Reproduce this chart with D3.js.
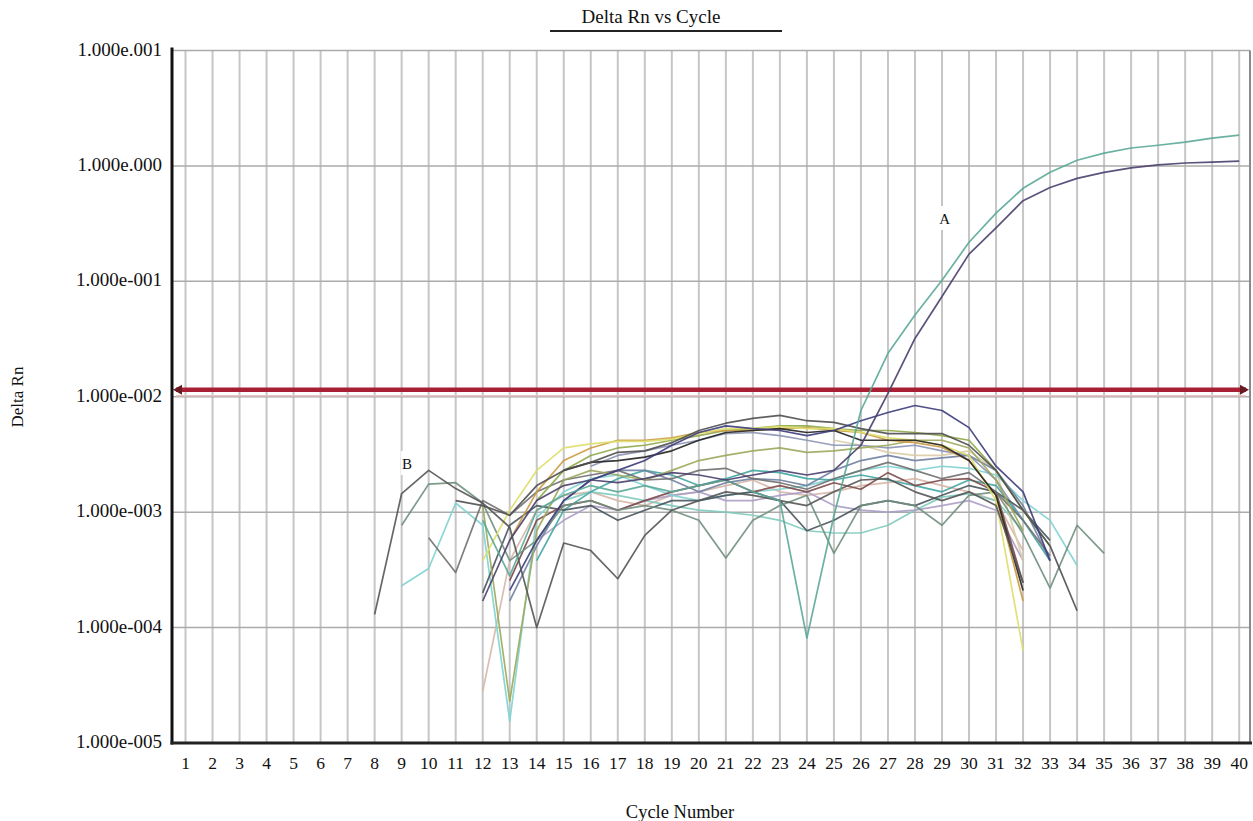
<!DOCTYPE html>
<html>
<head>
<meta charset="utf-8">
<script src="https://cdnjs.cloudflare.com/ajax/libs/d3/7.8.5/d3.min.js"></script>
<style>
  body { margin: 0; background: #fff; }
  svg text { font-family: "Liberation Serif", "Times New Roman", serif; fill: #111; }
</style>
</head>
<body>
<svg width="1253" height="821"></svg>
<script>
// cycle numbers on the x axis
var cycles = d3.range(1, 41);

// decade ticks on the log y axis and the labels as printed
var yTickValues = [1e-5, 1e-4, 1e-3, 1e-2, 1e-1, 1, 10];
var yTickLabels = ["1.000e-005", "1.000e-004", "1.000e-003", "1.000e-002", "1.000e-001", "1.000e.000", "1.000e.001"];

var thresholdValue = 0.0115;

// amplification curves (label A), first value at cycle 12
var ampTeal = [8.5e-4, 2.8e-4, 1.04e-3, 1.4e-3, 1.7e-3, 1.5e-3, 1.7e-3, 1.5e-3, 1.7e-3, 1.9e-3, 1.5e-3, 1.26e-3, 8.1e-5, 9.3e-4, 7.6e-3, 0.0238, 0.051, 0.102, 0.218, 0.39, 0.64, 0.88, 1.12, 1.29, 1.43, 1.51, 1.61, 1.74, 1.85];
var ampPurple = [1.7e-4, 5.7e-4, 1.26e-3, 1.7e-3, 1.9e-3, 1.8e-3, 1.95e-3, 2.2e-3, 2.1e-3, 1.9e-3, 2.1e-3, 2.3e-3, 2.1e-3, 2.3e-3, 3.8e-3, 0.0107, 0.032, 0.074, 0.172, 0.29, 0.50, 0.65, 0.78, 0.88, 0.96, 1.02, 1.06, 1.08, 1.10];

// background / negative curves (label B and the rest)
var lineB = [1.3e-4, 1.45e-3, 2.3e-3, 1.6e-3, 1.2e-3, 7.4e-4, 1.0e-4, 5.4e-4, 4.65e-4, 2.65e-4, 6.3e-4, 1.04e-3, 1.26e-3, 1.5e-3, 1.4e-3, 1.26e-3, 1.14e-3, 1.5e-3, 1.9e-3, 1.95e-3, 1.5e-3, 1.26e-3, 1.5e-3, 1.14e-3, 2.45e-4];
var greyGreen = [7.7e-4, 1.75e-3, 1.8e-3, 1.2e-3, 3.8e-4, 5.7e-4, 1.14e-3, 1.26e-3, 1.04e-3, 1.14e-3, 1.04e-3, 8.5e-4, 4.0e-4, 8.5e-4, 1.14e-3, 1.4e-3, 4.4e-4, 1.14e-3, 1.26e-3, 1.14e-3, 7.7e-4, 1.4e-3, 1.5e-3, 6.5e-4, 2.2e-4, 7.7e-4, 4.4e-4];
var diamond = [6.0e-4, 3.0e-4, 1.26e-3, 9.4e-4, 1.5e-3, 1.9e-3, 2.1e-3, 2.3e-3, 1.9e-3, 1.95e-3, 2.3e-3, 2.4e-3, 1.95e-3, 1.8e-3, 1.58e-3, 1.95e-3, 2.3e-3, 2.7e-3, 2.3e-3, 1.95e-3, 2.2e-3, 1.5e-3, 8.5e-4, 4.2e-4];
var cyan = [2.3e-4, 3.25e-4, 1.2e-3, 7.7e-4, 1.55e-5, 9.0e-4, 1.5e-3, 1.95e-3, 2.1e-3, 1.7e-3, 1.4e-3, 1.26e-3, 1.4e-3, 1.5e-3, 1.58e-3, 1.7e-3, 1.95e-3, 2.3e-3, 2.5e-3, 2.3e-3, 2.5e-3, 2.4e-3, 2.1e-3, 1.26e-3, 8.5e-4, 3.45e-4];
var navy = [2.1e-4, 5.7e-4, 1.26e-3, 1.9e-3, 2.3e-3, 2.8e-3, 3.8e-3, 4.9e-3, 5.6e-3, 5.3e-3, 5.1e-3, 4.6e-3, 5.1e-3, 6.2e-3, 7.3e-3, 8.4e-3, 7.6e-3, 5.4e-3, 2.5e-3, 1.5e-3, 3.8e-4];
var darkTop = [1.26e-3, 1.14e-3, 9.4e-4, 1.7e-3, 2.3e-3, 2.7e-3, 3.3e-3, 3.4e-3, 4.0e-3, 5.1e-3, 5.9e-3, 6.5e-3, 6.9e-3, 6.2e-3, 6.0e-3, 5.3e-3, 4.8e-3, 4.8e-3, 4.8e-3, 3.8e-3, 2.3e-3, 1.04e-3, 5.1e-4, 1.4e-4];
var yellow = [3.8e-4, 1.04e-3, 2.3e-3, 3.6e-3, 3.9e-3, 4.1e-3, 4.1e-3, 4.3e-3, 4.8e-3, 5.3e-3, 5.3e-3, 5.5e-3, 5.3e-3, 5.3e-3, 4.9e-3, 4.4e-3, 4.2e-3, 3.8e-3, 3.1e-3, 1.26e-3, 6.3e-5];
var orange = [5.7e-4, 1.5e-3, 2.8e-3, 3.6e-3, 4.2e-3, 4.2e-3, 4.4e-3, 4.9e-3, 5.1e-3, 5.1e-3, 5.3e-3, 5.4e-3, 5.1e-3, 4.9e-3, 4.2e-3, 4.0e-3, 3.65e-3, 2.8e-3, 1.4e-3, 1.7e-4];
var olive = [1.26e-3, 2.3e-3, 3.1e-3, 3.6e-3, 3.8e-3, 4.2e-3, 4.6e-3, 5.1e-3, 5.3e-3, 5.6e-3, 5.6e-3, 5.3e-3, 5.1e-3, 5.1e-3, 4.9e-3, 4.6e-3, 4.2e-3, 2.3e-3, 1.04e-3, 5.1e-4];
var black = [2.3e-3, 2.7e-3, 2.8e-3, 3.0e-3, 3.4e-3, 4.2e-3, 4.9e-3, 5.1e-3, 5.3e-3, 4.9e-3, 5.1e-3, 4.2e-3, 4.2e-3, 4.2e-3, 3.8e-3, 2.8e-3, 1.4e-3, 2.1e-4];
var beige = [4.2e-3, 3.8e-3, 3.3e-3, 3.1e-3, 3.1e-3, 3.4e-3, 2.3e-3, 3.8e-4];
var greyBlue = [2.5e-3, 3.1e-3, 3.4e-3, 3.8e-3, 4.2e-3, 4.8e-3, 4.9e-3, 4.6e-3, 4.2e-3, 3.8e-3, 3.8e-3, 3.6e-3, 3.8e-3, 3.4e-3, 3.1e-3, 1.9e-3, 8.5e-4];
var brownRed = [2.55e-4, 8.5e-4, 1.14e-3, 1.26e-3, 1.04e-3, 1.26e-3, 1.5e-3, 1.7e-3, 1.9e-3, 1.5e-3, 1.7e-3, 1.5e-3, 1.8e-3, 1.58e-3, 2.2e-3, 1.7e-3, 1.9e-3, 1.95e-3, 1.5e-3, 2.45e-4];
var teal2 = [3.8e-4, 1.04e-3, 1.5e-3, 1.95e-3, 2.3e-3, 2.1e-3, 1.7e-3, 1.95e-3, 2.3e-3, 2.2e-3, 1.95e-3, 1.9e-3, 2.1e-3, 1.9e-3, 1.7e-3, 1.5e-3, 1.9e-3, 1.7e-3, 8.5e-4, 3.8e-4];
var lightTeal = [1.26e-3, 1.5e-3, 1.4e-3, 1.26e-3, 1.14e-3, 1.04e-3, 1.0e-3, 9.4e-4, 8.5e-4, 6.9e-4, 6.6e-4, 6.6e-4, 7.7e-4, 1.04e-3, 1.35e-3, 1.45e-3, 1.26e-3, 6.9e-4];
var lightPurple = [5.7e-4, 8.5e-4, 1.14e-3, 1.04e-3, 1.26e-3, 1.4e-3, 1.5e-3, 1.26e-3, 1.26e-3, 1.4e-3, 1.5e-3, 1.14e-3, 1.04e-3, 1.0e-3, 1.04e-3, 1.14e-3, 1.26e-3, 1.04e-3, 3.8e-4];
var blueGrey = [1.7e-4, 5.1e-4, 1.26e-3, 1.9e-3, 2.3e-3, 2.3e-3, 1.9e-3, 1.5e-3, 1.8e-3, 1.95e-3, 1.9e-3, 1.7e-3, 2.3e-3, 2.8e-3, 3.1e-3, 2.8e-3, 2.95e-3, 3.1e-3, 2.3e-3, 1.14e-3, 3.8e-4];
var darkSlate = [2.0e-4, 7.7e-4, 1.14e-3, 1.04e-3, 1.14e-3, 8.5e-4, 1.04e-3, 1.26e-3, 1.26e-3, 1.4e-3, 1.5e-3, 1.26e-3, 6.9e-4, 8.5e-4, 1.14e-3, 1.26e-3, 1.14e-3, 1.4e-3, 1.7e-3, 1.5e-3, 1.04e-3, 5.7e-4];
var oliveDip = [1.14e-3, 2.3e-5, 6.9e-4, 1.9e-3, 2.3e-3, 2.1e-3, 1.9e-3, 2.3e-3, 2.8e-3, 3.1e-3, 3.4e-3, 3.6e-3, 3.3e-3, 3.4e-3, 3.6e-3, 3.8e-3, 4.2e-3, 4.2e-3, 3.6e-3, 1.9e-3, 6.9e-4];
var pinkBeige = [2.8e-5, 3.8e-4, 1.04e-3, 1.4e-3, 1.5e-3, 1.26e-3, 1.14e-3, 1.4e-3, 1.5e-3, 1.7e-3, 1.9e-3, 1.5e-3, 1.4e-3, 1.5e-3, 1.7e-3, 1.8e-3, 1.95e-3, 1.7e-3, 1.5e-3, 1.26e-3, 4.65e-4];

// which cycle each series starts at
var seriesList = [
  { values: pinkBeige, start: 12 },
  { values: lightTeal, start: 15 },
  { values: lightPurple, start: 14 },
  { values: beige, start: 25 },
  { values: cyan, start: 9 },
  { values: greyBlue, start: 16 },
  { values: teal2, start: 14 },
  { values: blueGrey, start: 13 },
  { values: darkSlate, start: 12 },
  { values: brownRed, start: 13 },
  { values: greyGreen, start: 9 },
  { values: diamond, start: 10 },
  { values: oliveDip, start: 12 },
  { values: olive, start: 14 },
  { values: orange, start: 13 },
  { values: yellow, start: 12 },
  { values: black, start: 15 },
  { values: darkTop, start: 11 },
  { values: navy, start: 13 },
  { values: lineB, start: 8 },
  { values: ampTeal, start: 12 },
  { values: ampPurple, start: 12 }
];
var seriesColors = ["#d6b6a6", "#80cabe", "#ab9dc6", "#dacca6", "#80d2d2", "#8c94b2", "#40a6a2", "#7080a2", "#48545c", "#7c4a4a",
                    "#6f8f7d", "#707070", "#9ca85c", "#8fa84a", "#cc9a40", "#dede6c", "#222222", "#4f4f4f", "#3c3c7c", "#555555",
                    "#5aa898", "#4a3f6e"];

document.addEventListener("DOMContentLoaded", function() {
  var svg = d3.select("svg");
  var left = 172, right = 1250, top = 50.5, bottom = 743;

  var xScale = d3.scaleLinear()
                 .domain([0.5, 40.4])
                 .range([left, right]);

  var yScale = d3.scaleLog()
                 .domain([1e-5, 10])
                 .range([bottom, top]);

  // grid
  svg.append("g")
    .selectAll("line")
    .data(cycles)
    .enter()
    .append("line")
      .attr("x1", function(d) { return xScale(d); })
      .attr("x2", function(d) { return xScale(d); })
      .attr("y1", top)
      .attr("y2", bottom)
      .attr("stroke", "#c6c6c6")
      .attr("stroke-width", 2);

  svg.append("g")
    .selectAll("line")
    .data(yTickValues)
    .enter()
    .append("line")
      .attr("x1", left)
      .attr("x2", right)
      .attr("y1", function(d) { return yScale(d); })
      .attr("y2", function(d) { return yScale(d); })
      .attr("stroke", "#ababab")
      .attr("stroke-width", 1.5);

  svg.append("line")
    .attr("x1", right).attr("x2", right)
    .attr("y1", top).attr("y2", bottom)
    .attr("stroke", "#8a8a8a")
    .attr("stroke-width", 2);

  // threshold line with arrows at both ends
  var ty = yScale(thresholdValue);
  svg.append("line")
    .attr("x1", left + 4).attr("x2", right - 4)
    .attr("y1", ty + 6).attr("y2", ty + 6)
    .attr("stroke", "#e8c4c4")
    .attr("stroke-width", 1.5);
  svg.append("line")
    .attr("x1", left + 4).attr("x2", right - 4)
    .attr("y1", ty).attr("y2", ty)
    .attr("stroke", "#a81e32")
    .attr("stroke-width", 4.5);
  svg.append("path")
    .attr("d", "M" + (left + 1) + "," + ty + "l9,-5l0,10z")
    .attr("fill", "#6a1a22");
  svg.append("path")
    .attr("d", "M" + (right - 1) + "," + ty + "l-9,-5l0,10z")
    .attr("fill", "#6a1a22");

  // curves
  var line = d3.line()
               .x(function(d) { return xScale(d.cycle); })
               .y(function(d) { return yScale(d.value); });

  svg.append("g")
    .selectAll("path")
    .data(seriesList)
    .enter()
    .append("path")
      .attr("d", function(s) {
        return line(s.values.map(function(v, i) { return { cycle: s.start + i, value: v }; }));
      })
      .attr("fill", "none")
      .attr("stroke", function(s, i) { return seriesColors[i]; })
      .attr("stroke-width", 1.7)
      .attr("stroke-linejoin", "round")
      .attr("opacity", 0.9);

  // axes
  svg.append("line")
    .attr("x1", left).attr("x2", left)
    .attr("y1", top - 3).attr("y2", bottom + 1.5)
    .attr("stroke", "#111")
    .attr("stroke-width", 3);
  svg.append("line")
    .attr("x1", left - 1.5).attr("x2", right + 2)
    .attr("y1", bottom).attr("y2", bottom)
    .attr("stroke", "#222")
    .attr("stroke-width", 3);

  svg.append("g")
    .selectAll("text")
    .data(yTickValues)
    .enter()
    .append("text")
      .attr("x", left - 10)
      .attr("y", function(d) { return yScale(d) + 5; })
      .attr("text-anchor", "end")
      .style("font-size", "19px")
      .text(function(d, i) { return yTickLabels[i]; });

  svg.append("g")
    .selectAll("text")
    .data(cycles)
    .enter()
    .append("text")
      .attr("x", function(d) { return xScale(d); })
      .attr("y", 769)
      .attr("text-anchor", "middle")
      .style("font-size", "17.5px")
      .text(function(d) { return d; });

  // titles
  svg.append("text")
    .attr("x", 651).attr("y", 23)
    .attr("text-anchor", "middle")
    .style("font-size", "19px")
    .text("Delta Rn vs Cycle");
  svg.append("line")
    .attr("x1", 550).attr("x2", 782)
    .attr("y1", 31).attr("y2", 31)
    .attr("stroke", "#222")
    .attr("stroke-width", 2);

  svg.append("text")
    .attr("x", 680).attr("y", 818)
    .attr("text-anchor", "middle")
    .style("font-size", "18.5px")
    .text("Cycle Number");

  svg.append("text")
    .attr("transform", "translate(23,397) rotate(-90)")
    .attr("text-anchor", "middle")
    .style("font-size", "17px")
    .text("Delta Rn");

  // curve labels
  function tag(txt, x, y) {
    svg.append("rect")
      .attr("x", x - 6).attr("y", y - 18)
      .attr("width", 13).attr("height", 24)
      .attr("fill", "#fff");
    svg.append("text")
      .attr("x", x).attr("y", y)
      .attr("text-anchor", "middle")
      .style("font-size", "15px")
      .text(txt);
  }
  tag("A", xScale(29.1), 224);
  tag("B", xScale(9.2), 469);
});
</script>
</body>
</html>
